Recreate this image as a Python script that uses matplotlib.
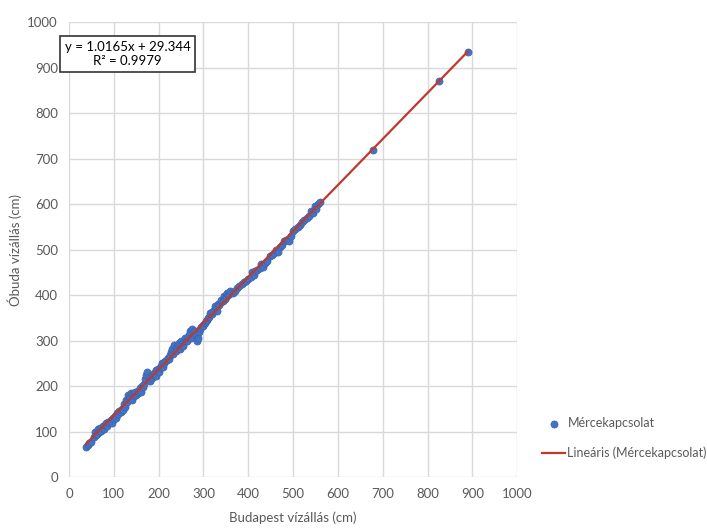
import matplotlib.pyplot as plt
import numpy as np

plt.rcParams["font.family"] = ["Lato", "DejaVu Sans"]

BUDAPEST = [
    38, 42, 45, 50, 55, 58, 60, 63, 65, 68, 70, 72, 75, 78, 80, 83, 85, 88,
    90, 93, 95, 98, 100, 103, 105, 108, 110, 112, 115, 118, 120, 122, 125,
    128, 130, 132, 135, 138, 140, 143, 145, 148, 150, 153, 155, 158, 160,
    163, 165, 168, 170, 172, 175, 178, 180, 183, 185, 188, 190, 193, 195,
    198, 200, 203, 205, 208, 210, 213, 215, 218, 220, 223, 225, 228, 230,
    233, 235, 238, 240, 243, 245, 248, 250, 253, 255, 258, 260, 263, 265,
    268, 270, 273, 275, 278, 280, 283, 285, 288, 290, 293, 295, 298, 300,
    303, 305, 308, 310, 313, 315, 318, 320, 323, 325, 328, 330, 333, 335,
    338, 340, 343, 345, 348, 350, 353, 355, 358, 360, 365, 370, 375, 380,
    385, 390, 395, 400, 405, 408, 412, 415, 420, 425, 428, 432, 438, 442,
    448, 452, 458, 462, 466, 470, 475, 480, 485, 490, 495, 500, 505, 510,
    515, 520, 525, 530, 535, 540, 545, 548, 552, 556, 560, 678, 825, 890,
]
OBUDA = [
    66, 70, 75, 78, 88, 100, 92, 95, 105, 98, 108, 102, 112, 105, 115, 118,
    112, 122, 120, 125, 118, 130, 128, 135, 130, 140, 138, 145, 142, 150,
    148, 160, 155, 170, 165, 180, 175, 185, 170, 182, 178, 188, 180, 185,
    190, 195, 188, 200, 198, 205, 215, 225, 230, 220, 212, 222, 218, 225,
    228, 222, 235, 238, 232, 240, 245, 250, 242, 250, 255, 258, 262, 260,
    268, 275, 282, 270, 290, 278, 285, 290, 295, 282, 300, 292, 288, 305,
    298, 300, 308, 312, 320, 305, 325, 318, 322, 312, 300, 305, 318, 325,
    330, 335, 332, 338, 342, 345, 350, 352, 360, 358, 362, 368, 375, 372,
    365, 380, 378, 385, 390, 388, 398, 392, 395, 405, 400, 402, 410, 405,
    410, 415, 420, 425, 428, 432, 436, 440, 450, 445, 452, 455, 460, 468,
    462, 470, 475, 485, 488, 492, 500, 495, 505, 510, 518, 522, 520, 530,
    540, 545, 550, 555, 560, 565, 570, 575, 585, 580, 595, 590, 600, 605,
    720, 870, 935,
]
EQUATION = "y = 1.0165x + 29.344\nR² = 0.9979"
TICKS = np.arange(0, 1001, 100)
GRAY = "#595959"


def plot_and_save(x, y, path):
    fig = plt.figure(figsize=(7.07, 5.30), dpi=100)
    ax = fig.add_axes([0.0976, 0.1, 0.634, 0.858])

    ax.scatter(x, y, s=26, color="#4472C4", zorder=3, label="Mércekapcsolat",
               edgecolors="#3a63ad", linewidths=0.5)

    k, b = np.polyfit(x, y, 1)
    xs = np.array([min(x), max(x)])
    ax.plot(xs, k * xs + b, color="#C0392B", lw=1.6, zorder=4,
            label="Lineáris (Mércekapcsolat)")

    ax.set_xlim(0, 1000)
    ax.set_ylim(0, 1000)
    ax.set_xticks(TICKS)
    ax.set_yticks(TICKS)
    ax.grid(True, color="#D9D9D9", lw=1)
    ax.set_axisbelow(True)
    for s in ax.spines.values():
        s.set_visible(False)
    ax.tick_params(length=0, labelsize=9.5, labelcolor=GRAY, pad=8)

    ax.set_xlabel("Budapest vízállás (cm)", fontsize=9.5, color=GRAY,
                  labelpad=8)
    ax.set_ylabel("Óbuda vízállás (cm)", fontsize=9.5, color=GRAY, labelpad=4)

    ax.text(0.131, 0.93, EQUATION, transform=ax.transAxes, ha="center",
            va="center", fontsize=9.5, color="black", linespacing=1.25,
            bbox=dict(boxstyle="square,pad=0.35", fc="white", ec="#333333",
                      lw=1.2))

    ax.legend(loc="center left", bbox_to_anchor=(1.045, 0.085),
              frameon=False, fontsize=9, labelcolor=GRAY, handlelength=1.8,
              handletextpad=0.2, borderaxespad=0, labelspacing=1.4)

    # leftover of the cut title above the figure
    fig.text(0.385, 1.012, "g", fontsize=22, ha="left", va="baseline")

    plt.savefig(path, dpi=100)


def main():
    plot_and_save(BUDAPEST, OBUDA, "out.png")


if __name__ == "__main__":
    main()
